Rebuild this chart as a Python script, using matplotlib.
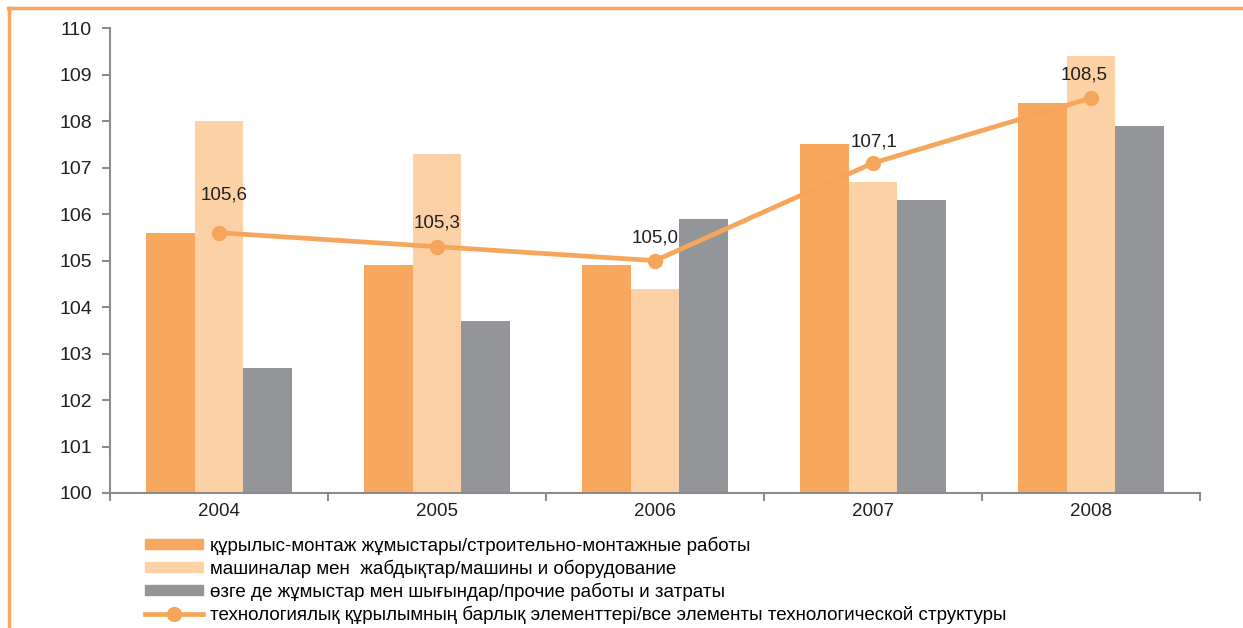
import matplotlib.pyplot as plt
from matplotlib.lines import Line2D
from matplotlib.patches import Patch
import numpy as np

plt.rcParams['font.family'] = ['Liberation Sans', 'DejaVu Sans']

# ==========================================
# ДАННЫЕ
# ==========================================
years = ['2004', '2005', '2006', '2007', '2008']
construction = [105.6, 104.9, 104.9, 107.5, 108.4]
machines = [108.0, 107.3, 104.4, 106.7, 109.4]
other = [102.7, 103.7, 105.9, 106.3, 107.9]
total = [105.6, 105.3, 105.0, 107.1, 108.5]
total_labels = ['105,6', '105,3', '105,0', '107,1', '108,5']
# смещение подписей линии (в пунктах)
label_dx = [4, 0, 0, 1, -5]
label_dy = [27, 17, 16, 15, 16.5]

series_names = [
    'құрылыс-монтаж жұмыстары/строительно-монтажные работы',
    'машиналар мен  жабдықтар/машины и оборудование',
    'өзге де жұмыстар мен шығындар/прочие работы и затраты',
    'технологиялық құрылымның барлық элементтері/все элементы технологической структуры',
]

C_ORANGE = '#F7A85E'
C_LIGHT = '#FCD1A5'
C_GRAY = '#939598'
C_LINE = '#F6A65B'
C_AXIS = '#8C8C8C'
C_TEXT = '#231F20'

fig = plt.figure(figsize=(12.43, 6.28), dpi=100)
ax = fig.add_axes([0.0885, 0.215, 0.877, 0.74])

x = np.arange(len(years))
w = 0.223
ax.bar(x - w, [v - 100 for v in construction], w, bottom=100, color=C_ORANGE, zorder=2)
ax.bar(x, [v - 100 for v in machines], w, bottom=100, color=C_LIGHT, zorder=2)
ax.bar(x + w, [v - 100 for v in other], w, bottom=100, color=C_GRAY, zorder=2)

ax.plot(x, total, color=C_LINE, lw=3.4, marker='o', ms=10, zorder=3)
for xi, yi, lab, dx, dy in zip(x, total, total_labels, label_dx, label_dy):
    ax.annotate(lab, (xi, yi), xytext=(dx, dy), textcoords='offset points',
                ha='center', va='center', fontsize=13.5, color=C_TEXT, zorder=4)

ax.set_xlim(-0.5, len(years) - 0.5)
ax.set_ylim(100, 110)
ax.set_yticks(range(100, 111))
ax.set_xticks(x)
ax.set_xticklabels(years)
ax.set_xticks(np.arange(-0.5, len(years)), minor=True)
ax.tick_params(axis='x', which='major', length=0, pad=7, labelsize=13.5, labelcolor=C_TEXT)
ax.tick_params(axis='x', which='minor', length=6, color=C_AXIS, width=1.5)
ax.tick_params(axis='y', length=6, color=C_AXIS, width=1.5, pad=7, labelsize=14, labelcolor=C_TEXT)

ax.spines[['top', 'right']].set_visible(False)
for s in ['left', 'bottom']:
    ax.spines[s].set_color(C_AXIS)
    ax.spines[s].set_linewidth(1.5)

handles = [
    Patch(color=C_ORANGE),
    Patch(color=C_LIGHT),
    Patch(color=C_GRAY),
    Line2D([], [], color=C_LINE, lw=3.4, marker='o', ms=10),
]
fig.legend(handles, series_names, loc='upper left', bbox_to_anchor=(0.1167, 0.146),
           frameon=False, fontsize=13.5, handlelength=3.1, handleheight=0.5,
           labelspacing=0.25, handletextpad=0.37, borderaxespad=0, borderpad=0)

# оранжевая рамка слева и сверху
fig.add_artist(Line2D([0.0075, 0.0075], [0.0, 0.988], color=C_ORANGE, lw=2.5,
                      transform=fig.transFigure))
fig.add_artist(Line2D([0.0065, 1.0], [0.987, 0.987], color=C_ORANGE, lw=2.5,
                      transform=fig.transFigure))

fig.savefig('out.png', dpi=100)
